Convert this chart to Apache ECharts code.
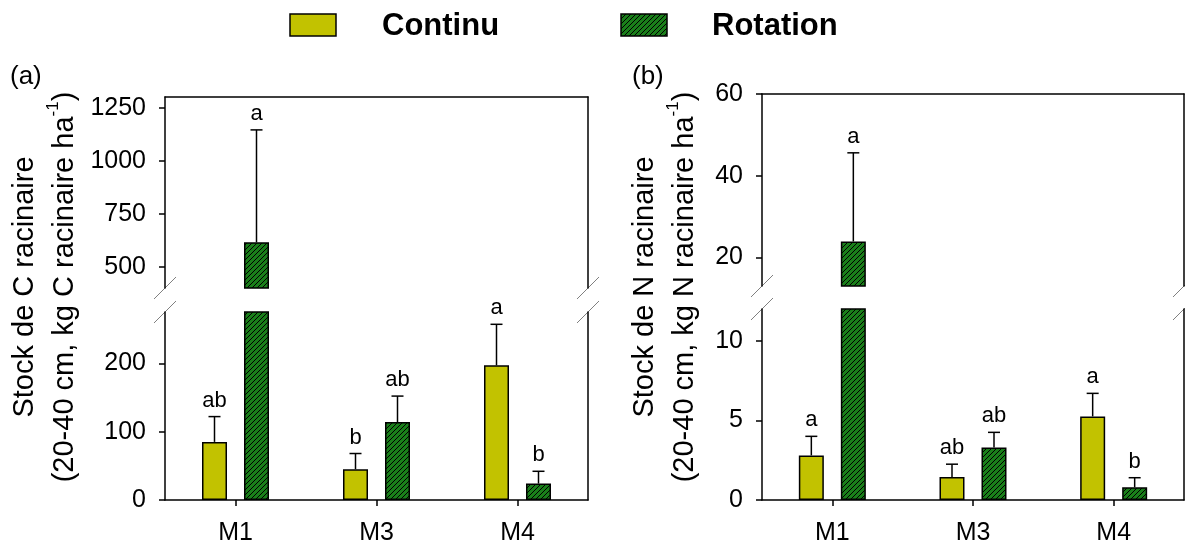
<!DOCTYPE html>
<html>
<head>
<meta charset="utf-8">
<script src="https://cdn.jsdelivr.net/npm/echarts@6/dist/echarts.min.js"></script>
<style>
  html, body { margin: 0; padding: 0; background: #fff; }
  #chart { width: 1185px; height: 546px; }
</style>
</head>
<body>
<div id="chart"></div>
<script>
// ---- data ----
const categories = ['M1', 'M3', 'M4'];

// (a) root carbon stock, kg C ha-1
const cContinu = [85, 45, 197];
const cContinuErr = [37, 23, 60];
const cContinuLetters = ['ab', 'b', 'a'];
const cRotation = [615, 114, 24];
const cRotationErr = [530, 38, 18];
const cRotationLetters = ['a', 'ab', 'b'];
const cUpperRange = [400, 1300];
const cUpperTicks = [500, 750, 1000, 1250];
const cLowerRange = [0, 275];
const cLowerTicks = [0, 100, 200];

// (b) root nitrogen stock, kg N ha-1
const nContinu = [2.8, 1.45, 5.25];
const nContinuErr = [1.2, 0.8, 1.45];
const nContinuLetters = ['a', 'ab', 'a'];
const nRotation = [23.9, 3.3, 0.8];
const nRotationErr = [21.7, 0.95, 0.6];
const nRotationLetters = ['a', 'ab', 'b'];
const nUpperRange = [13, 60];
const nUpperTicks = [20, 40, 60];
const nLowerRange = [0, 12];
const nLowerTicks = [0, 5, 10];

// ---- styles ----
const FONT = '"Liberation Sans", Arial, Helvetica, sans-serif';
const YELLOW = '#c2c200';
const GREEN = '#1a7f1a';
const BAR_W = 25;
const BAR_GAP = 0.68;
const HALF_STEP = BAR_W * (1 + BAR_GAP) / 2;

function hatchCanvas() {
  const c = document.createElement('canvas');
  c.width = 5; c.height = 5;
  const g = c.getContext('2d');
  g.fillStyle = GREEN;
  g.fillRect(0, 0, 5, 5);
  g.strokeStyle = '#000';
  g.lineWidth = 1;
  g.beginPath();
  g.moveTo(0, 5); g.lineTo(5, 0);
  g.moveTo(-1, 1); g.lineTo(1, -1);
  g.moveTo(4, 6); g.lineTo(6, 4);
  g.stroke();
  return c;
}
const HATCH = { image: hatchCanvas(), repeat: 'repeat' };

const axisLine = { show: true, lineStyle: { color: '#000', width: 1.5 } };

const option = {
  animation: false,
  backgroundColor: '#fff',
  grid: [], xAxis: [], yAxis: [], series: [], graphic: []
};

function leftY(gridIndex, range, ticks) {
  return {
    type: 'value', gridIndex, min: range[0], max: range[1], position: 'left',
    axisLine,
    axisTick: { show: true, length: 6, lineStyle: { color: '#000', width: 1.5 }, customValues: ticks },
    axisLabel: { fontSize: 25, color: '#000', fontFamily: FONT, margin: 19, customValues: ticks,
                 formatter: v => String(v) },
    splitLine: { show: false }
  };
}
function rightY(gridIndex, range) {
  return {
    type: 'value', gridIndex, min: range[0], max: range[1], position: 'right',
    axisLine, axisTick: { show: false }, axisLabel: { show: false }, splitLine: { show: false }
  };
}

function errorSeries(xi, yi, means, errs, letters, range, side, isUpper) {
  return {
    type: 'custom', xAxisIndex: xi, yAxisIndex: yi, z: 5,
    data: means.map((m, i) => [i, m, errs[i]]),
    encode: { x: 0, y: 1 },
    renderItem(params, api) {
      const mean = api.value(1), err = api.value(2);
      const inside = isUpper ? (mean >= range[0] && mean <= range[1]) : (mean <= range[1]);
      if (!inside) return;
      const base = api.coord([api.value(0), mean]);
      const tip = api.coord([api.value(0), mean + err]);
      const x = base[0] + side * HALF_STEP;
      const ls = { stroke: '#000', lineWidth: 1.5 };
      return {
        type: 'group',
        children: [
          { type: 'line', shape: { x1: x, y1: base[1], x2: x, y2: tip[1] }, style: ls },
          { type: 'line', shape: { x1: x - 6, y1: tip[1], x2: x + 6, y2: tip[1] }, style: ls },
          { type: 'text', x: x, y: tip[1] - 5,
            style: { text: letters[params.dataIndex], fill: '#000', font: '22px ' + FONT,
                     align: 'center', verticalAlign: 'bottom' } }
        ]
      };
    }
  };
}

function addPanel(L, d) {
  const gu = option.grid.length, gl = gu + 1;
  option.grid.push({ left: L.left, top: L.upperTop, width: L.width, height: L.height });
  option.grid.push({ left: L.left, top: L.lowerTop, width: L.width, height: L.height });

  option.xAxis.push({
    type: 'category', gridIndex: gu, data: categories, position: 'top',
    axisLine, axisTick: { show: false }, axisLabel: { show: false }
  });
  option.xAxis.push({
    type: 'category', gridIndex: gl, data: categories, position: 'bottom',
    axisLine,
    axisTick: { show: true, alignWithLabel: true, length: 6, lineStyle: { color: '#000', width: 1.5 } },
    axisLabel: { fontSize: 25, color: '#000', fontFamily: FONT, margin: 21 }
  });

  const yu = option.yAxis.length, yl = yu + 1;
  option.yAxis.push(leftY(gu, d.upperRange, d.upperTicks));
  option.yAxis.push(leftY(gl, d.lowerRange, d.lowerTicks));
  option.yAxis.push(rightY(gu, d.upperRange));
  option.yAxis.push(rightY(gl, d.lowerRange));

  const groups = [
    { name: 'Continu', vals: d.cont, errs: d.contErr, letters: d.contLet, fill: YELLOW, side: -1 },
    { name: 'Rotation', vals: d.rot, errs: d.rotErr, letters: d.rotLet, fill: HATCH, side: 1 }
  ];
  [[gu, yu, d.upperRange, true], [gl, yl, d.lowerRange, false]].forEach(([xi, yi, range, isUpper]) => {
    groups.forEach(g => {
      option.series.push({
        type: 'bar', name: g.name, xAxisIndex: xi, yAxisIndex: yi,
        barWidth: BAR_W, barGap: (BAR_GAP * 100) + '%',
        itemStyle: { color: g.fill, borderColor: '#000', borderWidth: 1.5 },
        data: g.vals.map(v => (isUpper && v < range[0]) ? '-' : v)
      });
    });
    groups.forEach(g => {
      option.series.push(errorSeries(xi, yi, g.vals, g.errs, g.letters, range, g.side, isUpper));
    });
  });

  // axis-break slashes on both sides of the frame
  const yBreaks = [L.upperTop + L.height, L.lowerTop];
  [L.left, L.left + L.width].forEach(x => {
    yBreaks.forEach(y => {
      option.graphic.push({
        type: 'line', silent: true,
        shape: { x1: x - 11, y1: y + 11, x2: x + 11, y2: y - 11 },
        style: { stroke: '#808080', lineWidth: 1 }
      });
    });
  });

  // panel letter and rotated axis title
  option.graphic.push({
    type: 'text', x: L.tagX, y: 77,
    style: { text: L.tag, font: '26px ' + FONT, fill: '#000', align: 'left', verticalAlign: 'middle' }
  });
  option.graphic.push({
    type: 'text', x: L.titleX, y: 287, rotation: Math.PI / 2,
    style: {
      text: d.title1 + '\n' + d.title2 + '{sup|-1})',
      font: '29px ' + FONT, fill: '#000', align: 'center', verticalAlign: 'middle', lineHeight: 40,
      rich: { sup: { fontSize: 17, fontFamily: FONT, fill: '#000', verticalAlign: 'top', lineHeight: 40 } }
    }
  });
}

addPanel(
  { left: 165, width: 423, upperTop: 97, lowerTop: 312, height: 191, tag: '(a)', tagX: 10, titleX: 45 },
  { cont: cContinu, contErr: cContinuErr, contLet: cContinuLetters,
    rot: cRotation, rotErr: cRotationErr, rotLet: cRotationLetters,
    upperRange: cUpperRange, upperTicks: cUpperTicks, lowerRange: cLowerRange, lowerTicks: cLowerTicks,
    title1: 'Stock de C racinaire', title2: '(20-40 cm, kg C racinaire ha' }
);
addPanel(
  { left: 762, width: 422, upperTop: 94, lowerTop: 309, height: 192, tag: '(b)', tagX: 632, titleX: 665 },
  { cont: nContinu, contErr: nContinuErr, contLet: nContinuLetters,
    rot: nRotation, rotErr: nRotationErr, rotLet: nRotationLetters,
    upperRange: nUpperRange, upperTicks: nUpperTicks, lowerRange: nLowerRange, lowerTicks: nLowerTicks,
    title1: 'Stock de N racinaire', title2: '(20-40 cm, kg N racinaire ha' }
);

// legend
[['Continu', YELLOW, 290, 382], ['Rotation', HATCH, 621, 712]].forEach(([label, fill, sx, tx]) => {
  option.graphic.push({
    type: 'rect', shape: { x: sx, y: 14, width: 46, height: 22 },
    style: { fill, stroke: '#000', lineWidth: 1.5 }
  });
  option.graphic.push({
    type: 'text', x: tx, y: 26,
    style: { text: label, font: 'bold 31px ' + FONT, fill: '#000', align: 'left', verticalAlign: 'middle' }
  });
});

const chart = echarts.init(document.getElementById('chart'), null, { renderer: 'canvas' });
chart.setOption(option);
</script>
</body>
</html>
